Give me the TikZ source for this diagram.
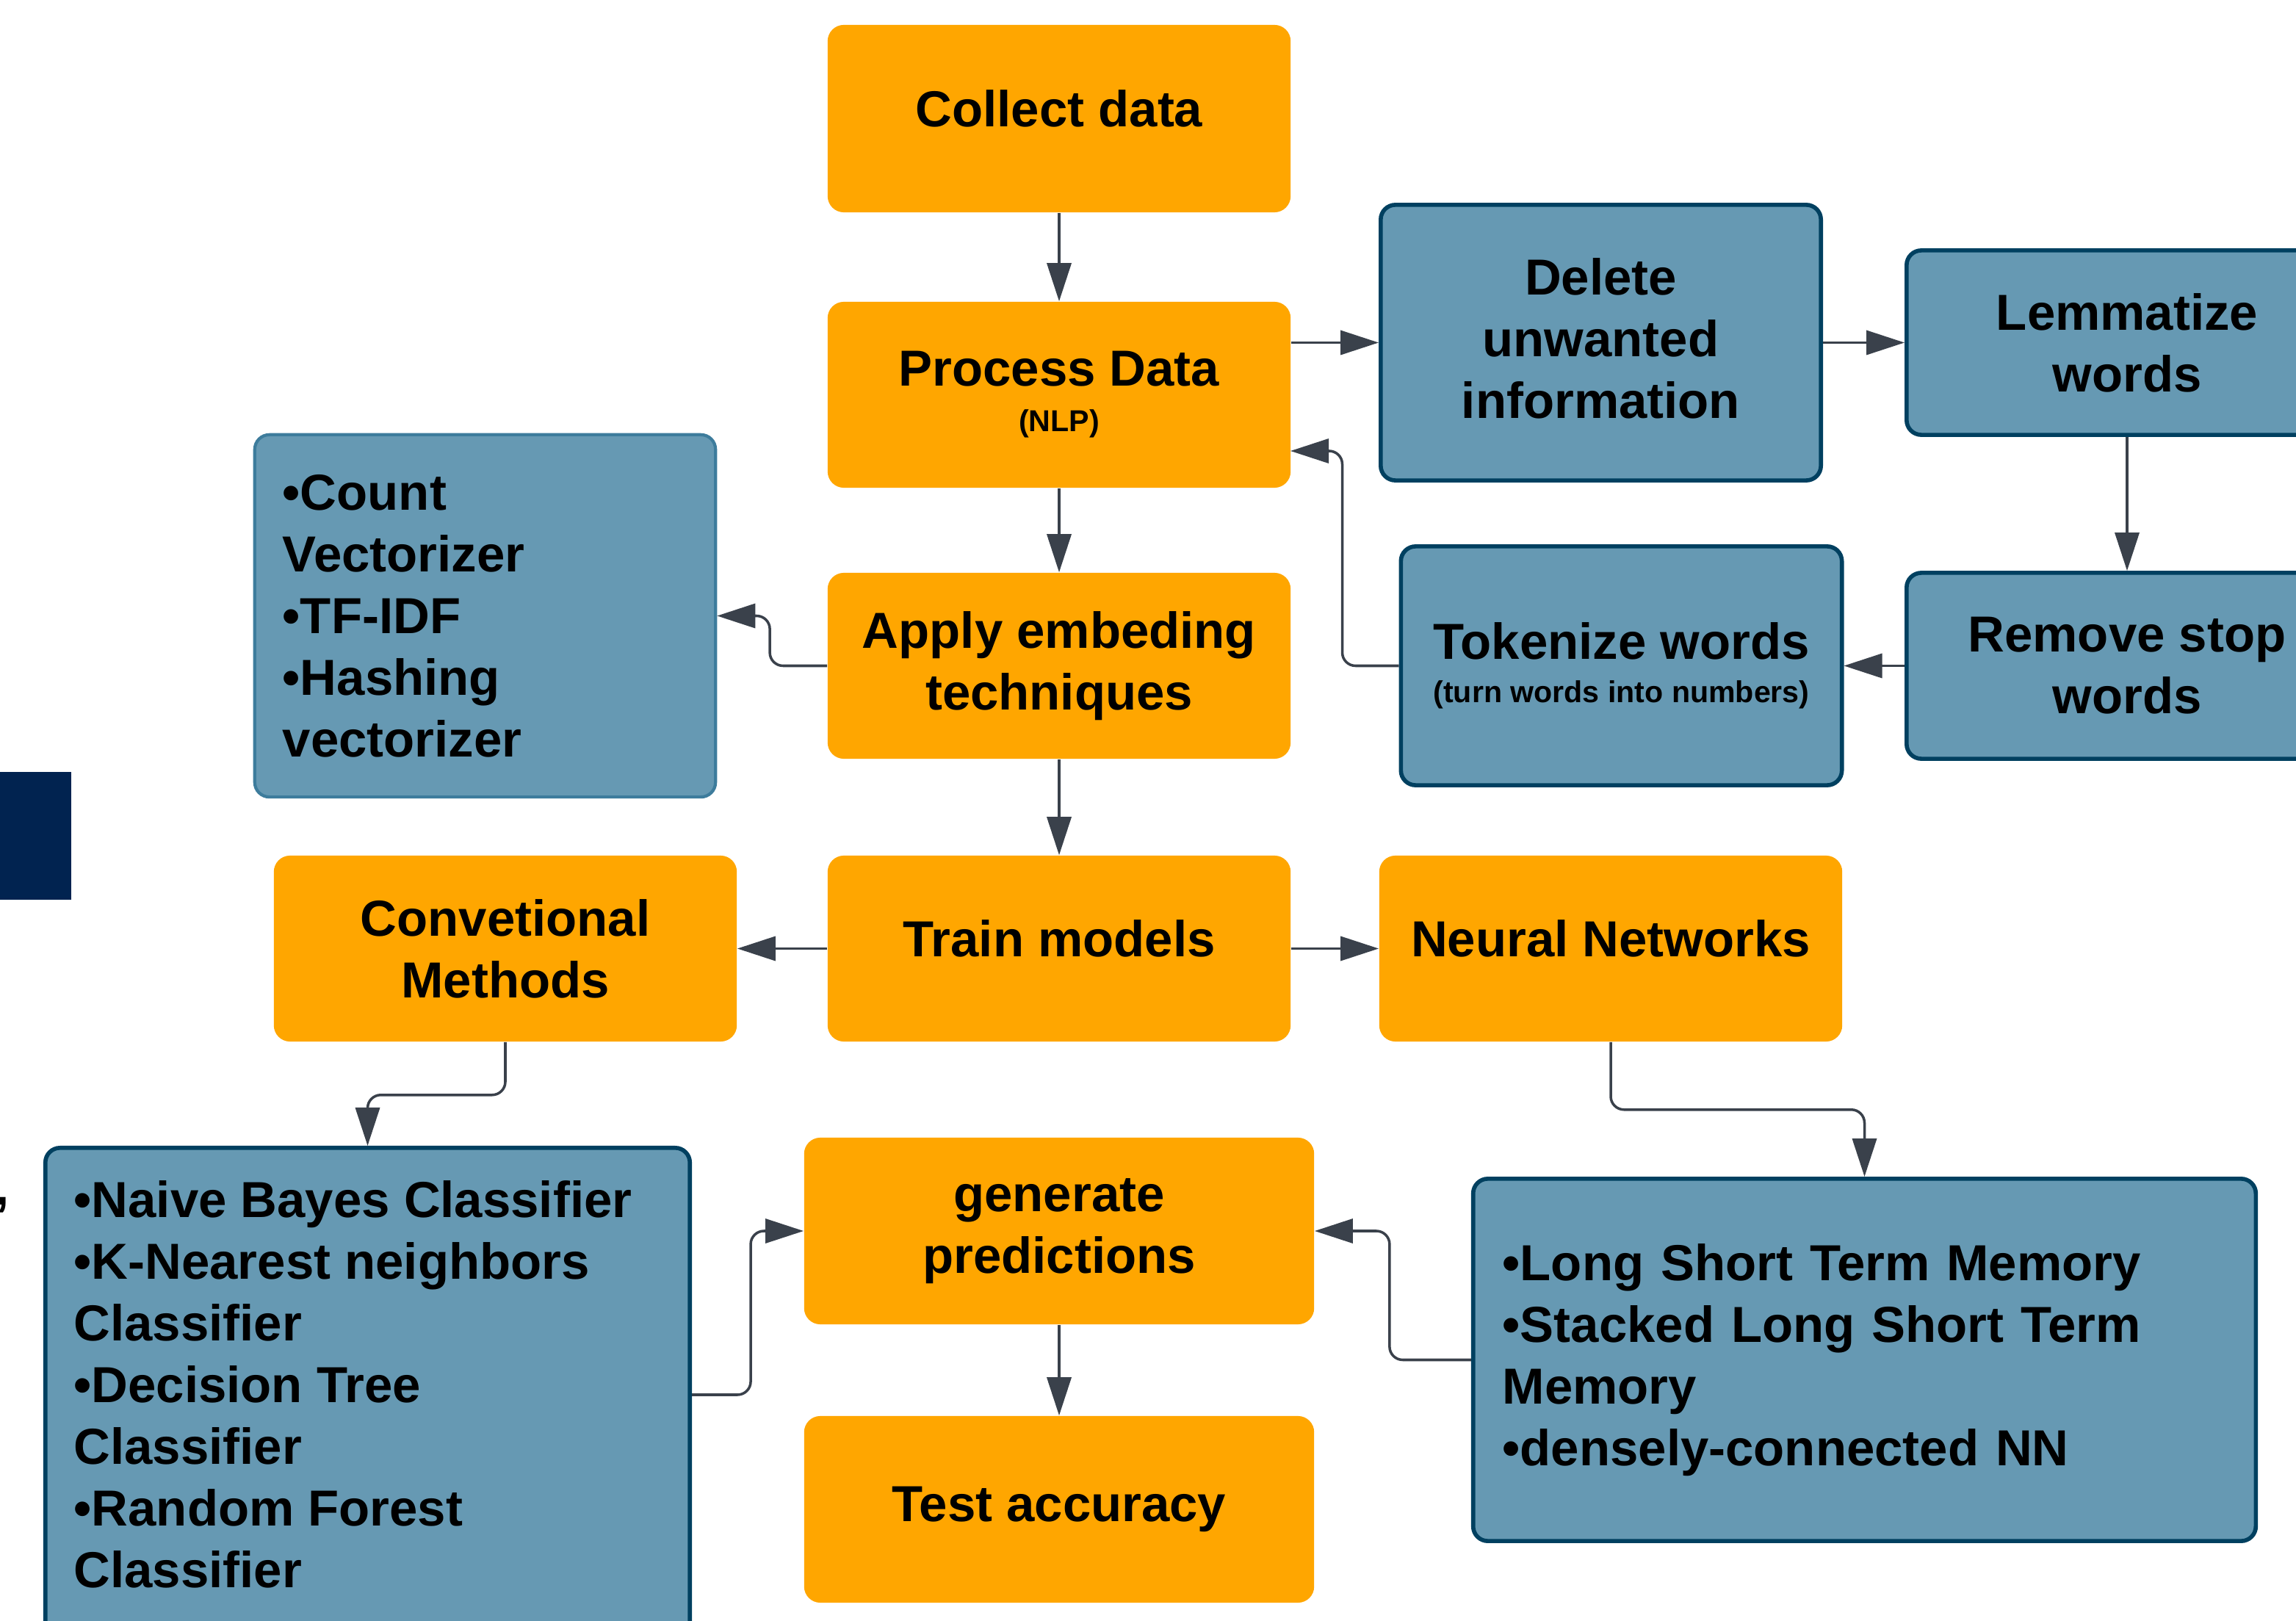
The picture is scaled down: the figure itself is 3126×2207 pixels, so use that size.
\documentclass[tikz,border=0pt]{standalone}
\usepackage{fontspec}
\setmainfont{Liberation Sans}
\usetikzlibrary{arrows.meta}
\definecolor{orng}{HTML}{FFA600}
\definecolor{bfill}{HTML}{6699B3}
\definecolor{bdraw}{HTML}{004060}
\definecolor{bdrawl}{HTML}{3D7C9C}
\definecolor{conncol}{HTML}{3A414B}
\definecolor{navyc}{HTML}{012350}
\newcommand\myBigFont{\fontsize{19.6}{23.9}\selectfont\bfseries}
\newcommand\mySmallFont{\fontsize{11.7}{23.9}\selectfont}
\begin{document}
\begin{tikzpicture}[x=0.01cm,y=-0.01cm,
 ob/.style={fill=orng, rounded corners=0.22cm, align=center, inner sep=0pt, font=\myBigFont},
 bb/.style={fill=bfill, draw=bdraw, line width=1.6pt, rounded corners=0.2cm, align=center, inner sep=0pt, font=\myBigFont},
 lst/.style={align=left, inner sep=0pt, font=\myBigFont},
 cn/.style={draw=conncol, line width=1pt, -{Triangle[length=5.2mm,width=3.3mm]}, rounded corners=0.18cm},
]
\useasboundingbox (0,0) rectangle (3126,2207);
\fill[white] (0,0) rectangle (3126,2207);
\clip (0,0) rectangle (3126,2207);

% decorative pieces at the left edge
\fill[navyc] (0,1051) rectangle (97,1225);
\node[anchor=base west, inner sep=0pt, font=\myBigFont] (cm0) at (-7,1640) {,};

% orange steps
\node[ob, minimum width=6.3cm, minimum height=2.55cm, text depth=0.28cm] (cd) at (1442,161.5) {Collect data};
\node[ob, minimum width=6.3cm, minimum height=2.53cm] (pd) at (1442,537.5) {Process Data\\[-6.3pt]{\mySmallFont (NLP)}};
\node[ob, minimum width=6.3cm, minimum height=2.53cm] (ap) at (1442,906.5) {Apply embeding\\techniques};
\node[ob, minimum width=6.3cm, minimum height=2.53cm, text depth=0.28cm] (tm) at (1442,1291.5) {Train models};
\node[ob, minimum width=6.3cm, minimum height=2.53cm] (cm) at (688,1291.5) {Convetional\\Methods};
\node[ob, minimum width=6.3cm, minimum height=2.53cm, text depth=0.28cm] (nn) at (2193,1291.5) {Neural Networks};
\node[ob, minimum width=6.94cm, minimum height=2.54cm] (gp) at (1442,1676) {generate\\predictions};
\node[ob, minimum width=6.94cm, minimum height=2.54cm] (ta) at (1442,2055) {Test accuracy};

% blue boxes
\node[bb, minimum width=5.99cm, minimum height=3.75cm, text depth=0.12cm] (dl) at (2179.5,466.5) {Delete\\unwanted\\information};
\node[bb, minimum width=6.0cm, minimum height=2.51cm] (lw) at (2896,466.5) {Lemmatize\\words};
\node[bb, minimum width=6.0cm, minimum height=2.53cm] (rs) at (2896,906.5) {Remove stop\\words};
\node[bb, minimum width=6.0cm, minimum height=3.25cm] (tw) at (2207.5,906.5) {Tokenize words\\[-7pt]{\mySmallFont (turn words into numbers)}};
\node[bb, draw=bdrawl, line width=1.2pt, align=left, inner xsep=0.38cm, text width=5.51cm, minimum height=4.93cm] (cv) at (660.5,838.5)
  {•Count\\Vectorizer\\•TF-IDF\\•Hashing\\vectorizer};
\node[bb, minimum width=8.77cm, minimum height=6.72cm] (nb) at (500.5,1899) {};
\node[lst, anchor=north west] (nbt) at (100,1607)
  {•Naive Bayes Classifier\\•K-Nearest neighbors\\Classifier\\•Decision Tree\\Classifier\\•Random Forest\\Classifier};
\node[bb, align=left, inner xsep=0.4cm, text width=9.85cm, minimum height=4.93cm] (ls) at (2538.5,1851.5)
  {•Long Short Term Memory\\•Stacked Long Short Term\\Memory\\•densely-connected NN};

% connectors
\coordinate (pdin) at (1757,614);
\draw[cn] (cd) -- (pd);
\draw[cn] (pd) -- (ap);
\draw[cn] (ap) -- (tm);
\draw[cn] (tm) -- (cm);
\draw[cn] (tm) -- (nn);
\draw[cn] (gp) -- (ta);
\draw[cn] (pd.east |- dl.west) -- (dl.west);
\draw[cn] (dl) -- (lw);
\draw[cn] (lw) -- (rs);
\draw[cn] (rs) -- (tw);
\draw[cn] (tw.west) -- ++(-77,0) |- (pdin);
\draw[cn] (ap.west) -- ++(-78,0) |- (cv.east);
\draw[cn] (cm.south) -- ++(0,72) -| (nb.north);
\draw[cn] (nn.south) -- ++(0,92) -| (ls.north);
\draw[cn] (nb.east) -- ++(80,0) |- (gp.west);
\draw[cn] (ls.west) -- ++(-111,0) |- (gp.east);
\end{tikzpicture}
\end{document}
